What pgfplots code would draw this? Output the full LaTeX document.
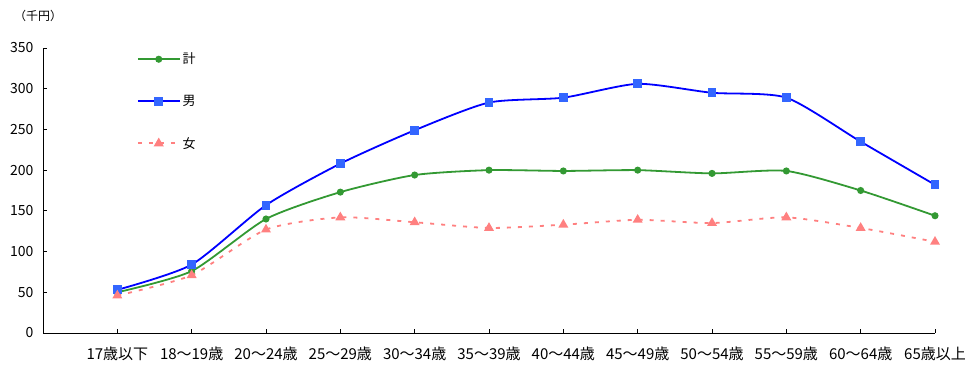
\documentclass[border=0pt]{standalone}
\usepackage{fontspec}
\setmainfont{Noto Sans CJK JP}
\usepackage{pgfplots}
\pgfplotsset{compat=1.18}
\definecolor{kei}{RGB}{51,153,51}
\definecolor{otoko}{RGB}{0,0,255}
\definecolor{otokom}{RGB}{51,102,255}
\definecolor{onna}{RGB}{255,128,128}
\begin{document}
\begin{tikzpicture}[x=1pt,y=1pt]
\useasboundingbox (0,0) rectangle (973,382);
\node[font=\fontsize{12}{13}\selectfont] at (38,366) {（千円）};
\begin{axis}[
  at={(43pt,49pt)}, anchor=south west,
  scale only axis, width=892pt, height=285pt,
  xmin=-1, xmax=11, ymin=0, ymax=350,
  axis x line*=bottom, axis y line*=left,
  axis line style={line width=0.8pt,-},
  tick align=inside, major tick length=4pt,
  tick style={line width=0.8pt,black},
  xtick={0,...,11},
  xticklabels={17歳以下,18～19歳,20～24歳,25～29歳,30～34歳,35～39歳,40～44歳,45～49歳,50～54歳,55～59歳,60～64歳,65歳以上},
  ytick={0,50,...,350},
  /pgf/number format/assume math mode=true,
  yticklabel style={font=\fontsize{14}{15}\selectfont, xshift=-6pt},
  xticklabel style={font=\fontsize{15}{16}\selectfont, yshift=-10pt},
  legend style={draw=none, fill=none, at={(rel axis cs:0.105,0.99)}, anchor=north west,
    font=\fontsize{13}{14}\selectfont, row sep=26pt, inner sep=0pt},
  legend cell align=left,
  legend image code/.code={\draw[mark repeat=2,mark phase=2] plot coordinates {(0pt,0pt) (21pt,0pt) (42pt,0pt)};},
  clip=false,
]
\addplot[kei, line width=1.8pt, smooth, tension=0.4, mark=*, mark size=2.6pt, mark options={solid,fill=kei}]
 coordinates {(0,50) (1,76) (2,140) (3,173) (4,194) (5,200) (6,199) (7,200) (8,196) (9,199) (10,175) (11,144)};
\addlegendentry{計}
\addplot[otoko, line width=1.8pt, smooth, tension=0.4, mark=square*, mark size=3.5pt, mark options={solid,draw=otokom,fill=otokom}]
 coordinates {(0,53) (1,84) (2,157) (3,208) (4,249) (5,283) (6,289) (7,306) (8,295) (9,289) (10,235) (11,182)};
\addlegendentry{男}
\addplot[onna, line width=1.8pt, smooth, tension=0.4, dash pattern=on 4pt off 7pt, mark=triangle*, mark size=4pt, mark options={solid,fill=onna}]
 coordinates {(0,46) (1,71) (2,127) (3,142) (4,136) (5,129) (6,133) (7,139) (8,135) (9,142) (10,129) (11,112)};
\addlegendentry{女}
\end{axis}
\end{tikzpicture}
\end{document}
